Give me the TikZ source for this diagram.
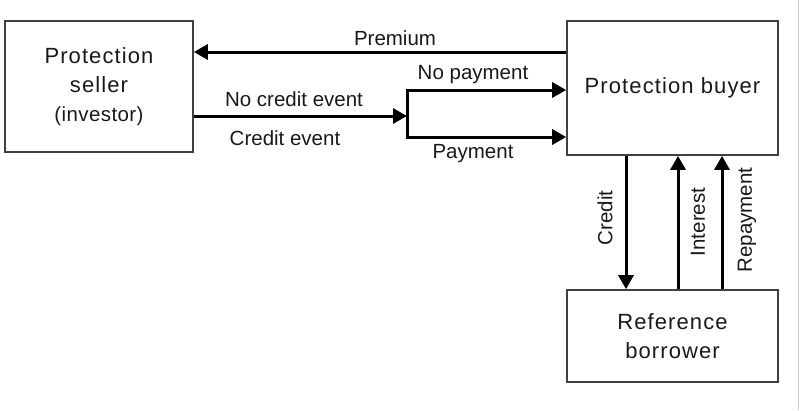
\documentclass[tikz,border=0pt]{standalone}
\usepackage{fontspec}
\setmainfont{Liberation Sans}
\usetikzlibrary{arrows.meta}
\begin{document}
\begin{tikzpicture}[x=1pt,y=-1pt,
  box/.style={draw=black!75,line width=1.6pt,inner sep=0pt,align=center,text=black!90,
    font=\fontsize{22}{29}\selectfont\addfontfeatures{LetterSpace=5}},
  arr/.style={line width=3pt,-{Triangle[length=14pt,width=15pt]}},
  conn/.style={line width=3pt},
  lbl/.style={inner sep=0pt,text=black!90,font=\fontsize{20.5}{24}\selectfont}]
\useasboundingbox (0,0) rectangle (799,410);
\draw[black!20,line width=1pt] (798,0) -- (798,410);
\node[box,minimum width=188pt,minimum height=131pt] (seller) at (99,86.5)
  {Protection\\seller\\{\fontsize{20.5}{29}\selectfont\addfontfeatures{LetterSpace=2}(investor)}};
\node[box,minimum width=211pt,minimum height=134pt] (buyer) at (672.5,88) {Protection buyer};
\node[box,minimum width=211pt,minimum height=92pt] (ref) at (672.5,336) {Reference\\borrower};
\coordinate (prem) at (0,52);
\coordinate (br) at (407,116);
\coordinate (brt) at (407,90);
\coordinate (brb) at (407,137);
\coordinate (xc) at (626,0);
\coordinate (xi) at (678,0);
\coordinate (xr) at (722,0);
\draw[arr] (buyer.west |- prem) -- (seller.east |- prem);
\draw[arr] (seller.east |- br) -- (br);
\draw[conn,line cap=rect] (brt) -- (brb);
\draw[arr] (brt) -- (buyer.west |- brt);
\draw[arr] (brb) -- (buyer.west |- brb);
\draw[arr] (buyer.south -| xc) -- (ref.north -| xc);
\draw[arr] (ref.north -| xi) -- (buyer.south -| xi);
\draw[arr] (ref.north -| xr) -- (buyer.south -| xr);
\node[lbl] (lprem) at (395,38) {Premium};
\node[lbl] (lnop) at (473,75) {No payment};
\node[lbl] (lnce) at (294,99) {No credit event};
\node[lbl] (lce) at (285,138) {Credit event};
\node[lbl] (lpay) at (473,154) {Payment};
\node[lbl,rotate=90] (lcred) at (605,218) {Credit};
\node[lbl,rotate=90] (lint) at (698,222) {Interest};
\node[lbl,rotate=90] (lrep) at (747,220) {Repayment};
\end{tikzpicture}
\end{document}
